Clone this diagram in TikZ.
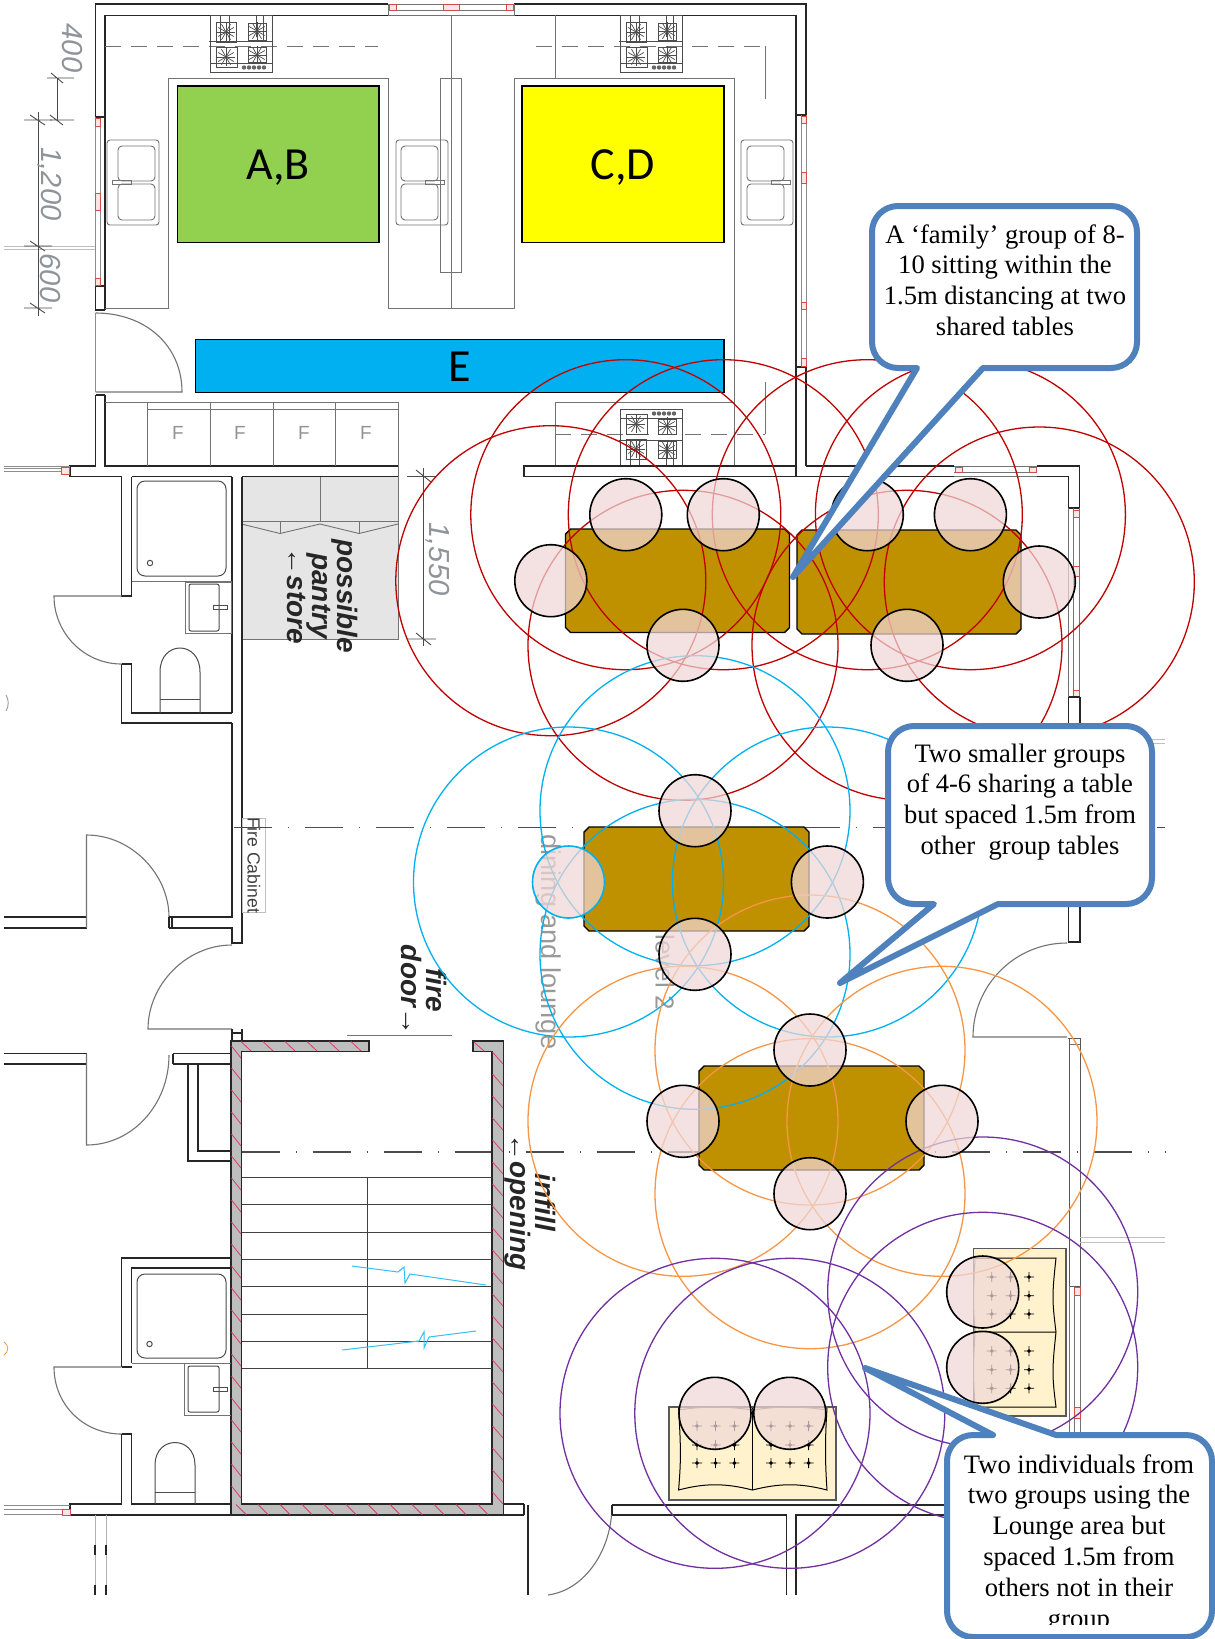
\documentclass[tikz,border=0pt]{standalone}
\usepackage{fontspec}
\usepackage{xcolor}
\setmainfont{Liberation Serif}
\newfontfamily\plansans{Liberation Sans}
\newfontfamily\zonefont{Carlito}
\definecolor{zonegreen}{HTML}{92D050}
\definecolor{zoneyellow}{HTML}{FFFF00}
\definecolor{zoneblue}{HTML}{00B0F0}
\definecolor{tabletop}{HTML}{BF9000}
\definecolor{seatpink}{HTML}{F0D8D8}
\definecolor{sofafill}{HTML}{FFF2CC}
\definecolor{rangered}{HTML}{C00000}
\definecolor{rangeorange}{HTML}{F79646}
\definecolor{rangepurple}{HTML}{7030A0}
\definecolor{bubbleblue}{HTML}{4F81BD}
\definecolor{dimgray}{HTML}{8E9499}
\definecolor{wallgray}{HTML}{BEBEBE}
\definecolor{hatchred}{HTML}{D9405F}
\tikzset{
  wall/.style={line width=.55pt,black!85},
  fitting/.style={line width=.45pt,black!55},
  sanitary/.style={line width=.5pt,black!70},
  doorswing/.style={line width=.55pt,black!55},
  sill/.style={line width=.45pt,black!45},
  redmark/.style={line width=.35pt,draw=rangered!70,fill=rangered!10},
  zone/.style={draw=black,line width=.8pt},
  zonelabel/.style={font=\zonefont\fontsize{23}{23}\selectfont},
  centreline/.style={line width=.55pt,black!70,dash pattern=on 19pt off 8pt on .5pt off 8pt},
  dimline/.style={line width=.45pt,black!70},
  dimtext/.style={font=\plansans\itshape\fontsize{14.5}{15}\selectfont,text=dimgray,rotate=-90},
  plannote/.style={font=\plansans\bfseries\itshape\fontsize{14}{12.5}\selectfont,text=black!85,rotate=-90,align=center,inner sep=0pt},
  roomtext/.style={font=\plansans\fontsize{13.6}{15}\selectfont,text=black!40,rotate=-90,inner sep=0pt},
  tablebox/.style={draw=black,line width=.7pt,fill=tabletop},
  seat/.style={circle,draw=black,line width=.8pt,fill=seatpink,fill opacity=.72,minimum size=36pt,inner sep=0pt},
  reach/.style={line width=.65pt},
  bubble/.style={draw=bubbleblue,line width=3pt,fill=white,line join=round},
  bubbletext/.style={align=center,font=\fontsize{13.3}{15.4}\selectfont,inner sep=0pt},
  starmark/.style={line width=.4pt,black}
}
% cooker, drawn from its top left corner
\newcommand{\cookerunit}[1]{
  \begin{scope}[#1,sanitary]
    \draw (0,0) rectangle (62,57);
    \draw (-1,26) -- (63,26) (0,48) -- (62,48);
    \draw (10,0) -- (10,26) (19,0) -- (19,26) (46,0) -- (46,22) (53,0) -- (53,26);
    \draw (6,7) rectangle (26,27) (38,8) rectangle (56,25);
    \draw (6,32) rectangle (27,52) (38,32) rectangle (56,47);
    \foreach \bx/\by in {16/17,47/16,16/42,47/40}
      \foreach \ang in {0,30,...,330}
        \draw[line width=.35pt] (\bx,\by) -- +(\ang:9);
    \foreach \dx in {34,39,44,49,54}
      \fill[black!60] (\dx,52.5) circle[radius=2.2];
  \end{scope}
}
% double oven, drawn from its top left corner
\newcommand{\ovenunit}[3]{
  \draw[fitting,rounded corners=1.5pt] (#1,140) rectangle ++(52,85);
  \draw[fitting,rounded corners=2pt] (#2,146) rectangle ++(37,35);
  \draw[fitting,rounded corners=2pt] (#2,184) rectangle ++(37,36);
  \draw[fitting] (#3,180) rectangle ++(19,4);
}
\begin{document}
\begin{tikzpicture}[x=.5pt,y=-.5pt]
\fill[white] (0,0) rectangle (1215,1639);
\useasboundingbox (0,0) rectangle (1215,1639);

% kitchen walls
\draw[wall] (388,4) -- (95.5,4) -- (95.5,117);
\draw[wall] (514,4) -- (806,4) -- (806,115);
\draw[wall] (105,15.3) -- (796,15.3);
\draw[fitting] (388,4) rectangle (514,15.3);
\draw[fitting] (388,10) -- (514,10);
\draw[redmark] (389,4) rectangle (396,10);
\draw[redmark] (443,4) rectangle (459,10);
\draw[redmark] (506,4) rectangle (513,10);
\draw[wall] (105,15.3) -- (105,310);
\draw[wall] (95.5,286) -- (95.5,310) -- (105,310);
\draw[sill] (95.5,117) -- (95.5,286) (100,117) -- (100,286);
\draw[wall] (95.5,117) -- (105,117) (95.5,286) -- (105,286);
\draw[redmark] (95.5,118) rectangle (100,126);
\draw[redmark] (95.5,193) rectangle (100,210);
\draw[redmark] (95.5,278) rectangle (100,285);
\draw[wall] (95.5,395) -- (105,395) (105,395) -- (105,466) -- (398,466);
\draw[wall] (95.5,395) -- (95.5,466) -- (70,466) -- (70,476.5) -- (121.5,476.5);
\draw[sill] (95.5,313) -- (95.5,392);
\draw[doorswing] (95.5,392) -- (182,392) .. controls (182,345) and (145,313) .. (95.5,313);
\draw[wall] (796,15.3) -- (796,466) (806,115) -- (796,115) (806,367) -- (796,367) (806,367) -- (806,466);
\draw[sill] (806,115) -- (806,367) (801,115) -- (801,367);
\draw[redmark] (801,116) rectangle (806,123);
\draw[redmark] (801,172) rectangle (806,183);
\draw[redmark] (801,302) rectangle (806,309);
\draw[redmark] (801,358) rectangle (806,366);
\foreach \sy in {4,6.5,9}
  \draw[sill] (4,462+\sy) -- (70,462+\sy);
\draw[redmark] (61,467) rectangle (69,474);
\draw[sill,black!25] (4,246) -- (95,246) (4,249) -- (95,249);

% counters
\draw[fitting] (105,308) -- (168,308) -- (168,78) -- (388,78) -- (388,308) -- (514,308) -- (514,78) -- (734,78) -- (734,402);
\draw[fitting] (451,15.3) -- (451,308) (555,15.3) -- (555,78);
\draw[fitting] (440,78) rectangle (461,272);
\draw[fitting,dash pattern=on 8pt off 5pt] (105,46) -- (378,46);
\draw[fitting,dash pattern=on 8pt off 5pt] (536,46) -- (765,46);
\draw[fitting] (765,46) -- (765,99);
\draw[fitting] (765,382) -- (765,434);
\draw[fitting,dash pattern=on 8pt off 5pt] (555,434) -- (765,434);
\draw[fitting] (105,402) -- (398,402) -- (398,476.5);
\draw[fitting] (147,409) -- (398,409);
\foreach \cx in {147,210,273,335}
  \draw[fitting] (\cx,402) -- (\cx,466);
\foreach \cx in {178,240,304,366}
  \node[font=\plansans\fontsize{9.5}{10}\selectfont,text=dimgray] (fridge\cx) at (\cx,433) {F};
\draw[fitting] (555,466) -- (555,402) -- (734,402);
\draw[fitting] (734,402) -- (734,466);
\cookerunit{shift={(210,15)}}
\cookerunit{shift={(620,15)}}
\cookerunit{shift={(620,466)},yscale=-1}
\ovenunit{107}{118}{112}
\ovenunit{396}{401}{425}
\ovenunit{741}{747}{771}

% zones
\draw[zone,fill=zonegreen] (177.5,86) rectangle (379,242.5);
\draw[zone,fill=zoneyellow] (522,86) rectangle (724,242.5);
\draw[zone,fill=zoneblue] (195.5,339.5) rectangle (724,392.5);
\node[zonelabel] (zoneab) at (278,168) {A,B};
\node[zonelabel] (zonecd) at (623,168) {C,D};
\node[zonelabel] (zonee) at (460,367) {E};

% dimensions on the left
\draw[dimline] (57,78) -- (57,120);
\draw[dimline] (47,78) -- (74,78) (51,73) -- (63,83);
\draw[dimline] (50,120) -- (74,120) (50,115) -- (63,125);
\draw[dimline] (38,112) -- (38,316);
\draw[dimline] (24,120) -- (52,120) (30,115) -- (45,125);
\draw[dimline] (24,246) -- (52,246) (30,241) -- (45,251);
\draw[dimline] (24,308) -- (52,308) (30,303) -- (45,313);
\node[dimtext] (dimfour) at (72,48) {400};
\node[dimtext] (dimtwelve) at (50,184) {1,200};
\node[dimtext] (dimsix) at (50,278) {600};

% pantry
\fill[black!10] (241.5,476.5) rectangle (398,639);
\draw[fitting] (241.5,639) -- (398,639) -- (398,476.5);
\draw[fitting] (320,476.5) -- (320,521);
\draw[fitting] (241.5,521) -- (398,521);
\draw[fitting] (241.5,524) -- (280,533.5) -- (320,524) -- (359,533.5) -- (398,524);
\draw[fitting] (280,521) -- (280,533.5) (359,521) -- (359,533.5);
\draw[dimline] (423,468) -- (423,646);
\draw[dimline] (407,476.5) -- (436,476.5) (416,470) -- (431,482);
\draw[dimline] (407,639) -- (436,639) (416,633) -- (431,645);
\node[dimtext] (dimpantry) at (438,559) {1,550};
\node[plannote] (pantrynote) at (323,596) {possible\\pantry\\←store};

% upper bathroom
\draw[wall] (131.5,476.5) -- (232,476.5) (242,476.5) -- (398,476.5);
\draw[wall] (121.5,476.5) -- (121.5,596) -- (131.5,596) (131.5,596) -- (131.5,476.5);
\draw[wall] (121.5,664) -- (121.5,723) -- (232,723);
\draw[wall] (121.5,664) -- (131.5,664) -- (131.5,713) -- (232,713);
\draw[wall] (232,476.5) -- (232,713) (232,723) -- (232,917) -- (172,917) -- (172,928) -- (232,928) -- (232,943) -- (242,943) -- (242,476.5);
\draw[fitting] (131.5,581) -- (232,581);
\draw[sanitary,rounded corners=4pt] (137,481) rectangle (226,576);
\draw[sanitary] (150,563) circle[radius=2.7];
\draw[fitting] (185,582) rectangle (231,633);
\draw[sanitary,rounded corners=1pt] (189,584) rectangle (219,631);
\draw[sanitary] (213,605) rectangle (227,609);
\draw[sanitary] (160,713) -- (160,672) .. controls (160,640) and (200,640) .. (200,672) -- (200,713);
\draw[sanitary] (160,699) -- (200,699);
\draw[doorswing] (121.5,596) -- (54,596) .. controls (54,633) and (84,664) .. (121.5,664);
\draw[fitting,black!40] (6,695) .. controls (9,700) and (9,706) .. (6,711);

% corridor doors and walls
\draw[wall] (4,917) -- (86.5,917) (4,928) -- (86.5,928);
\draw[doorswing] (86.5,928) -- (86.5,835) .. controls (132,835) and (169,875) .. (169,917);
\draw[wall] (169,917) -- (172,917) (169,928) -- (172,928) (169,917) -- (169,928);
\draw[doorswing] (232,945) .. controls (186,945) and (148,985) .. (148,1029) -- (232,1029);
\draw[wall] (232,1029) -- (232,1041) (242,1029) -- (242,1041) (232,1033) -- (242,1033);
\draw[wall] (4,1053.5) -- (86.5,1053.5) (4,1064) -- (86.5,1064);
\draw[doorswing] (86.5,1053.5) -- (86.5,1145) .. controls (132,1145) and (169,1105) .. (169,1055);
\draw[wall] (173,1053.5) -- (231,1053.5) (173,1064) -- (231,1064) (173,1053.5) -- (173,1064);
\draw[wall] (188,1064) -- (188,1161) -- (231,1161) (198,1064) -- (198,1151) -- (231,1151);

% fire cabinet
\draw[fitting,black!25] (242,818) rectangle (265,912);
\node[font=\plansans\fontsize{8.8}{9}\selectfont,text=black!75,rotate=-90,inner sep=0pt] (cabinet) at (254,865) {Fire Cabinet};

% centre lines
\draw[centreline] (234,827.5) -- (1165,827.5);
\draw[centreline] (241.5,1152) -- (1165,1152);

% stairs
\draw[wall,fill=wallgray] (231,1041) -- (369,1041) -- (369,1051.5) -- (241.5,1051.5) -- (241.5,1504) -- (492,1504) -- (492,1051.5) -- (473,1051.5) -- (473,1041) -- (503.5,1041) -- (503.5,1515) -- (231,1515) -- cycle;
\foreach \hy in {1046,1068,...,1490}
  \draw[hatchred,line width=.4pt] (231.5,\hy) -- (241,\hy+12) (492.5,\hy+6) -- (503,\hy+18);
\foreach \hx in {241,263,...,360}
  \draw[hatchred,line width=.4pt] (\hx,1041.5) -- (\hx+10,1051);
\foreach \hx in {236,258,...,490}
  \draw[hatchred,line width=.4pt] (\hx,1504.5) -- (\hx+10,1514.5);
\draw[hatchred,line width=.4pt] (474,1042) -- (484,1051);
\foreach \ty in {1177.5,1204.8,1232,1259,1286,1341,1368}
  \draw[black!75,line width=.45pt] (241.5,\ty) -- (492,\ty);
\draw[black!75,line width=.45pt] (241.5,1314) -- (367.5,1314);
\draw[black!75,line width=.45pt] (367.5,1177.5) -- (367.5,1368);
\draw[zoneblue!80,line width=.5pt] (352,1266) -- (398,1272) -- (404,1267) -- (405,1283) -- (410,1274) -- (486,1285);
\draw[zoneblue!80,line width=.5pt] (342,1350) -- (419,1341) -- (424,1332) -- (424,1348) -- (429,1337) -- (476,1331);

% fire door and infill notes
\draw[fitting] (347,1035) -- (452,1035);
\node[plannote] (firenote) at (424,990) {fire\\door→};
\node[plannote] (infillnote) at (530,1202) {infill\\←opening};

% lower bathroom
\draw[wall] (121.5,1367) -- (121.5,1258) -- (231,1258) (131.5,1363) -- (131.5,1268) -- (231,1268);
\draw[wall] (121.5,1367) -- (131.5,1367);
\draw[sanitary,rounded corners=4pt] (137,1274) rectangle (226,1358);
\draw[sanitary] (149.5,1344) circle[radius=2.7];
\draw[fitting] (131.5,1363) -- (231,1363);
\draw[fitting] (184.5,1363) -- (184.5,1415) -- (231,1415);
\draw[sanitary,rounded corners=1pt] (188,1366) rectangle (219,1412);
\draw[sanitary] (213,1387) rectangle (227,1391);
\draw[doorswing] (121.5,1367) -- (54,1367) .. controls (54,1405) and (84,1434) .. (121.5,1434);
\draw[wall] (121.5,1434) -- (131.5,1434) (121.5,1434) -- (121.5,1504) -- (70,1504) -- (70,1515) -- (231,1515);
\draw[wall] (131.5,1434) -- (131.5,1504) -- (231,1504);
\draw[sanitary] (155,1504) -- (155,1465) .. controls (155,1435) and (195,1435) .. (195,1465) -- (195,1504);
\draw[sanitary] (155,1492) -- (195,1492);
\foreach \sy in {1505,1509.5,1514}
  \draw[sill] (4,\sy) -- (70,\sy);
\draw[redmark] (62,1509) rectangle (70,1515);
\draw[sill,black!30] (95,1515) -- (95,1595) (106,1515) -- (106,1595);
\draw[wall] (95,1545) -- (95,1555) (106,1545) -- (106,1555) (95,1585) -- (95,1595) (106,1585) -- (106,1595);
\draw[rangeorange,line width=.4pt] (4,1342) .. controls (9,1345) and (9,1352) .. (4,1355);

% bottom right of the stair
\draw[wall] (503.5,1504) -- (524,1504) (503.5,1515) -- (524,1515);
\draw[wall] (524,1504) -- (524,1515) (528,1505) -- (528,1595);
\draw[doorswing] (612,1505) .. controls (612,1550) and (585,1590) .. (548,1595);
\draw[wall] (612,1505) -- (1080,1505) (612,1505) -- (612,1515);
\draw[wall] (612,1515) -- (786.5,1515) -- (786.5,1595) (796,1595) -- (796,1515) -- (1080,1515);

% lounge walls
\draw[wall] (524,466) rectangle (796,476.7);
\draw[wall] (796,476.7) -- (954,476.7) (806,466) -- (954,466);
\draw[fitting] (954,466) -- (1037,466) (954,476.7) -- (1037,476.7) (954,472) -- (1037,472);
\draw[redmark] (955,467) rectangle (962,472);
\draw[redmark] (1029,467) rectangle (1036,472);
\draw[wall] (1037,466) -- (1079.5,466) -- (1079.5,508) (1037,476.7) -- (1068.5,476.7) -- (1068.5,508) -- (1079.5,508);
\draw[fitting] (1068.5,508) -- (1068.5,697) (1073.5,508) -- (1073.5,697) (1079.5,508) -- (1079.5,697);
\draw[redmark] (1073.5,510) rectangle (1079.5,517);
\draw[redmark] (1073.5,566) rectangle (1079.5,576);
\draw[redmark] (1073.5,690) rectangle (1079.5,697);
\draw[wall] (1068.5,697) -- (1079.5,697) (1068.5,697) -- (1068.5,942) -- (1080,942) -- (1080,697);
\draw[doorswing] (1067,943) .. controls (1015,943) and (973,985) .. (973,1037) -- (1067,1037);
\draw[fitting,black!65] (1068,1038) -- (1080,1038) -- (1080,1286) -- (1069.5,1286) -- (1069.5,1038) -- cycle;
\draw[fitting] (1069.5,1044) -- (1080,1044);
\draw[fitting] (1069.5,1286) -- (1069.5,1505) (1074.6,1286) -- (1074.6,1505) (1080,1286) -- (1080,1505);
\draw[redmark] (1074.6,1287) rectangle (1080,1295);
\draw[redmark] (1074.6,1407) rectangle (1080,1418);
\draw[sill,black!25] (1080,1237) -- (1165,1237) (1080,1242) -- (1165,1242);
\draw[sill,black!25] (1150,739) -- (1165,739) (1150,743) -- (1165,743);

% faint room names
\node[roomtext] (roomdining) at (549,942) {dining and lounge};
\node[roomtext,font=\plansans\fontsize{13}{15}\selectfont] (roomlevel) at (665,972) {level 2};

% tables
\draw[tablebox] (570.5,529) -- (784.5,529) -- (789.5,534) -- (789.5,627.5) -- (784.5,632.5) -- (570.5,632.5) -- (565.5,627.5) -- (565.5,534) -- cycle;
\draw[tablebox] (802,530) -- (1016,530) -- (1021,535) -- (1021,629) -- (1016,634) -- (802,634) -- (797,629) -- (797,535) -- cycle;
\draw[tablebox] (589,827) -- (804,827) -- (809,832) -- (809,926) -- (804,931) -- (589,931) -- (584,926) -- (584,832) -- cycle;
\draw[tablebox] (704,1066) -- (919,1066) -- (924,1071) -- (924,1165) -- (919,1170) -- (704,1170) -- (699,1165) -- (699,1071) -- cycle;

% sofa by the wall
\draw[fitting,black!65,fill=sofafill,line width=.7pt] (973.5,1248.5) rectangle (1066,1416);
\draw[line width=.5pt] (975,1258) -- (1056,1258) .. controls (1052,1295) and (1052,1300) .. (1056,1332) .. controls (1052,1370) and (1052,1375) .. (1056,1407) -- (975,1407) (975,1332) -- (1056,1332);
\draw[line width=.5pt,black!55] (975,1258) .. controls (973,1300) and (973,1300) .. (975,1332) .. controls (973,1370) and (973,1370) .. (975,1407);
\foreach \sx in {991.7,1010.6,1029}
  \foreach \sy in {1277,1295.7,1314,1351,1369.7,1388.3}
    \draw[starmark,fill=white] (\sx-5,\sy) -- (\sx+5,\sy) (\sx,\sy-5) -- (\sx,\sy+5) (\sx-1.6,\sy) -- (\sx,\sy-1.6) -- (\sx+1.6,\sy) -- (\sx,\sy+1.6) -- cycle;

% sofa at the bottom
\draw[fitting,black!65,fill=sofafill,line width=.7pt] (669,1407) rectangle (836,1500);
\draw[line width=.5pt] (678.6,1408) .. controls (681,1450) and (681,1460) .. (678.6,1490) .. controls (705,1483) and (725,1483) .. (752.5,1490) .. controls (780,1483) and (800,1483) .. (827,1490) .. controls (825,1460) and (825,1440) .. (827,1408);
\draw[line width=.5pt] (752.5,1408) -- (752.5,1490);
\draw[line width=.5pt,black!55] (678.6,1410) .. controls (705,1406) and (725,1406) .. (752.5,1410) .. controls (780,1406) and (800,1406) .. (827,1410);
\foreach \sx in {697,715.5,734.4,771,790,808.6}
  \foreach \sy in {1426,1445,1463}
    \draw[starmark,fill=white] (\sx-5,\sy) -- (\sx+5,\sy) (\sx,\sy-5) -- (\sx,\sy+5) (\sx-1.6,\sy) -- (\sx,\sy-1.6) -- (\sx+1.6,\sy) -- (\sx,\sy+1.6) -- cycle;

% reach of each seat
\foreach \px/\py in {625.8/514.7,723.3/514.7,550.8/580.7,683/645.3,867.3/514.7,970.4/514.7,1039.3/582,907/645.3}
  \draw[reach,rangered] (\px,\py) circle[radius=155];
\foreach \px/\py in {695/810.7,568.5/882,827.4/882,695/954.3}
  \draw[reach,zoneblue] (\px,\py) circle[radius=155];
\foreach \px/\py in {810/1050,683/1121.3,942/1121.3,810/1193.7}
  \draw[reach,rangeorange] (\px,\py) circle[radius=155];
\foreach \px/\py in {715/1413.3,789.8/1413.3,982.7/1292,982.7/1367.3}
  \draw[reach,rangepurple] (\px,\py) circle[radius=155];

% seats
\foreach \px/\py/\sn in {625.8/514.7/a,723.3/514.7/b,550.8/580.7/c,683/645.3/d,867.3/514.7/e,970.4/514.7/f,1039.3/582/g,907/645.3/h,695/810.7/i,827.4/882/k,695/954.3/l,810/1050/m,683/1121.3/n,942/1121.3/o,810/1193.7/p,715/1413.3/q,789.8/1413.3/r,982.7/1292/s,982.7/1367.3/t}
  \node[seat] (seat\sn) at (\px,\py) {};
\node[seat,draw=zoneblue] (seatj) at (568.5,882) {};

% callouts
\draw[bubble] (793,577) -- (983,368) [rounded corners=13pt] -- (1137,368) -- (1137,206) -- (872,206) -- (872,368) [sharp corners] -- (917,368) -- cycle;
\node[bubbletext] (notefamily) at (1005,280) {A ‘family’ group of 8-\\10 sitting within the\\1.5m distancing at two\\shared tables};
\draw[bubble] (840,983) -- (998,904) [rounded corners=13pt] -- (1152,904) -- (1152,726) -- (888,726) -- (888,904) [sharp corners] -- (934,904) -- cycle;
\node[bubbletext] (notesmaller) at (1020,802) {Two smaller groups\\of 4-6 sharing a table\\but spaced 1.5m from\\other\ \ group tables};
\draw[bubble] (865,1368) -- (1056,1435) [rounded corners=13pt] -- (1212,1435) -- (1212,1637) -- (947,1637) -- (947,1435) [sharp corners] -- (993,1435) -- cycle;
\begin{scope}
  \clip (950,1440) rectangle (1210,1624);
  \node[bubbletext,anchor=north] (notelounge) at (1079,1454) {Two individuals from\\two groups using the\\Lounge area but\\spaced 1.5m from\\others not in their\\group};
\end{scope}
\end{tikzpicture}
\end{document}
